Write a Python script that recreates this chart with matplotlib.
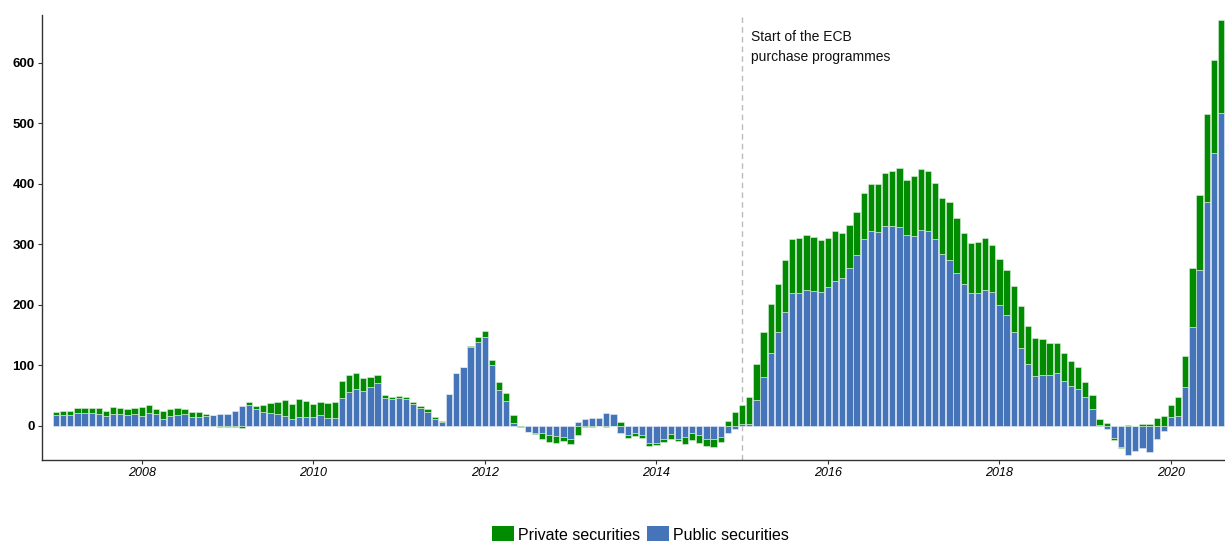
import matplotlib
matplotlib.use("Agg")
import matplotlib.pyplot as plt
from matplotlib.patches import Patch
import numpy as np

plt.rcParams['font.family'] = ['Liberation Sans', 'DejaVu Sans']

# monthly flows, Jan 2007 .. Aug 2020
start_year = 2007
public = [
    18.2, 18.2, 18.2, 21.0, 22.0, 22.0, 20.4, 17.1, 19.8, 20.4, 17.6, 19.3,
    16.5, 20.9, 19.3, 12.1, 17.1, 18.2, 19.8, 14.3, 14.3, 17.1, 17.6, 20.4,
    19.8, 25.3, 33.0, 34.7, 27.6, 22.6, 20.9, 19.3, 16.5, 11.6, 14.9, 14.9,
    14.9, 17.6, 13.8, 13.8, 46.3, 56.2, 61.2, 57.9, 64.5, 71.6, 46.3, 44.6,
    45.7, 44.6, 35.8, 29.8, 23.1, 11.0, 7.2, 52.3, 87.1, 97.0, 131.1, 138.3,
    147.7, 100.3, 60.1, 41.9, 5.5, -0.5, -9.4, -12.1, -11.0, -15.4, -16.5, -17.6,
    -20.9, 6.6, 11.6, 12.7, 13.8, 20.9, 19.3, -12.1, -14.9, -12.1, -14.9, -28.7,
    -27.6, -21.5, -13.8, -21.5, -18.7, -12.1, -14.9, -22.0, -21.5, -17.6, -12.1, -5.5,
    2.8, 3.3, 43.0, 81.0, 121.2, 154.8, 187.9, 219.3, 219.3, 224.8, 223.2, 221.0,
    229.2, 239.7, 245.2, 261.7, 282.1, 309.1, 322.3, 320.7, 330.0, 330.6, 328.4, 315.7,
    314.0, 324.0, 323.0, 308.6, 284.3, 274.4, 253.5, 234.7, 220.4, 219.3, 224.8, 222.1,
    200.0, 183.5, 155.9, 128.4, 102.5, 82.7, 84.3, 84.3, 87.1, 74.9, 66.1, 60.6,
    47.4, 28.1, 1.0, -5.0, -20.4, -34.2, -47.9, -41.3, -36.9, -42.4, -22.0, -8.3,
    15.4, 17.1, 63.9, 164.2, 257.9, 370.8, 450.7, 516.8,
]
private = [
    5.5, 7.1, 6.0, 8.2, 7.8, 7.8, 8.8, 7.7, 11.6, 9.4, 10.0, 11.0,
    14.4, 13.3, 8.8, 12.1, 11.6, 12.1, 7.8, 8.8, 8.3, 3.3, 0.3, -2.0,
    -1.0, -1.0, -2.8, 5.0, 5.4, 12.7, 16.6, 20.9, 26.5, 24.8, 29.1, 26.4,
    22.0, 22.6, 24.2, 25.9, 27.5, 28.7, 25.8, 20.9, 16.5, 12.2, 4.9, 2.8,
    3.3, 2.8, 3.9, 3.2, 4.5, 3.3, 1.1, 0.5, 0.5, 0.5, 0.5, 9.4,
    8.8, 8.8, 13.2, 12.1, 12.1, -1.5, -0.5, -1.1, -9.9, -10.5, -12.1, -6.6,
    -8.8, -14.3, -1.0, -1.0, -0.5, -1.0, -0.5, 6.1, -4.4, -4.4, -4.4, -4.4,
    -3.3, -4.4, -7.7, -3.3, -11.0, -11.0, -13.8, -11.0, -12.7, -8.3, 8.3, 22.6,
    31.9, 44.1, 60.0, 74.9, 80.5, 79.9, 85.9, 89.8, 90.9, 91.5, 88.7, 85.9,
    81.6, 82.1, 73.8, 71.1, 71.6, 76.6, 77.2, 78.8, 88.8, 91.2, 97.6, 90.9,
    99.3, 100.3, 98.0, 92.4, 92.0, 96.4, 89.8, 84.9, 82.6, 85.4, 85.4, 77.1,
    75.5, 74.4, 75.5, 70.5, 63.4, 62.2, 59.0, 52.3, 49.5, 45.2, 41.9, 36.4,
    25.9, 23.1, 10.0, 4.4, -2.8, -2.8, 2.0, 0.0, 3.3, 3.3, 12.7, 16.5,
    19.3, 30.3, 51.8, 97.5, 123.9, 144.9, 154.3, 154.3,
]
year_ticks = [2008, 2010, 2012, 2014, 2016, 2018, 2020]
y_ticks = [0, 100, 200, 300, 400, 500, 600]
programme_start = 2015
note = "Start of the ECB\npurchase programmes"

green = '#008b00'
blue = '#4674b9'

pub = np.asarray(public)
prv = np.asarray(private)
x = start_year + np.arange(len(pub)) / 12.0

# private stacks on public when both have the same sign
bottom_prv = np.where(np.sign(pub) == np.sign(prv), pub, 0.0)

fig = plt.figure(figsize=(12.25, 5.41), dpi=100)
ax = fig.add_axes([0.034, 0.15, 0.966, 0.822])

w = 0.88 / 12
ax.bar(x, pub, width=w, color=blue, edgecolor='#e8eef8', linewidth=0.4, zorder=2)
ax.bar(x, prv, width=w, bottom=bottom_prv, color=green, edgecolor='#e0f0e0',
       linewidth=0.4, zorder=2)

ax.axvline(programme_start, color='#bbbbbb', linestyle=(0, (4, 3)), linewidth=1, zorder=1)
ax.text(programme_start + 0.1, 626, note, fontsize=10, va='center', ha='left',
        linespacing=1.55, color='#111111')

ax.set_xlim(2006 + 10 / 12, 2020 + 7.55 / 12)
ax.set_ylim(-56, 679)
ax.set_xticks(year_ticks)
ax.set_xticklabels([str(y) for y in year_ticks], fontsize=9, style='italic')
ax.set_yticks(y_ticks)
ax.set_yticklabels([str(v) for v in y_ticks], fontsize=9.5, fontweight='bold')
ax.tick_params(length=3, width=0.8, color='#333333', pad=2)

for side in ['top', 'right']:
    ax.spines[side].set_visible(False)
for side in ['left', 'bottom']:
    ax.spines[side].set_color('#333333')
    ax.spines[side].set_linewidth(1.0)

handles = [Patch(facecolor=green, edgecolor='none'), Patch(facecolor=blue, edgecolor='none')]
fig.legend(handles, ['Private securities', 'Public securities'], loc='center',
           bbox_to_anchor=(0.523, 0.012), ncol=2, frameon=False, fontsize=11.5,
           handlelength=1.35, handleheight=1.35, handletextpad=0.3, columnspacing=0.4)

fig.savefig('out.png', dpi=100)
